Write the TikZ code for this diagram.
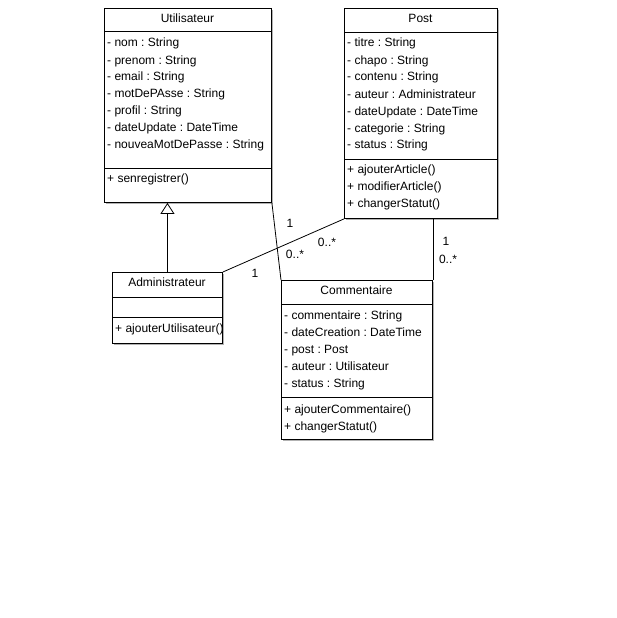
\documentclass[tikz,border=0pt]{standalone}
\usepackage{fontspec}
\setmainfont{Liberation Sans}
\usetikzlibrary{arrows.meta,shadows}
\frenchspacing
\begin{document}
\begin{tikzpicture}[x=1pt,y=-1pt,
  txt/.style={font=\fontsize{12}{14}\selectfont, inner sep=0pt},
  classbox/.style={draw=black, line width=0.9pt, fill=white, inner sep=0pt, anchor=north west,
    drop shadow={shadow xshift=1.6pt, shadow yshift=-1.6pt, fill=black!30, opacity=1}},
  sep/.style={draw=black, line width=0.9pt},
  title/.style={txt, anchor=center},
  member/.style={txt, anchor=base west},
  multiplicity/.style={txt, anchor=center},
  link/.style={draw=black, line width=0.8pt},
  inherit/.style={link, -{Triangle[open, length=11pt, width=14pt]}}
]
\useasboundingbox (0,0) rectangle (616,618);

% ---- Utilisateur ----
\node[classbox, minimum width=167pt, minimum height=194pt] (util) at (104,8) {};
\node[title] (utilT) at (187.5,18) {Utilisateur};
\draw[sep] (104,31) -- (271,31);
\node[member] (u1) at (107,47) {- nom : String};
\node[member] (u2) at (107,64) {- prenom : String};
\node[member] (u3) at (107,80.5) {- email : String};
\node[member] (u4) at (107,97.5) {- motDePAsse : String};
\node[member] (u5) at (107,114.5) {- profil : String};
\node[member] (u6) at (107,131.5) {- dateUpdate : DateTime};
\node[member] (u7) at (107,148.5) {- nouveaMotDePasse : String};
\draw[sep] (104,168) -- (271,168);
\node[member] (u8) at (107,182.5) {+ senregistrer()};

% ---- Post ----
\node[classbox, minimum width=153pt, minimum height=210pt] (post) at (344,8) {};
\node[title] (postT) at (420.5,18) {Post};
\draw[sep] (344,32) -- (497,32);
\node[member] (p1) at (347,47) {- titre : String};
\node[member] (p2) at (347,64) {- chapo : String};
\node[member] (p3) at (347,81) {- contenu : String};
\node[member] (p4) at (347,98) {- auteur : Administrateur};
\node[member] (p5) at (347,115) {- dateUpdate : DateTime};
\node[member] (p6) at (347,132) {- categorie : String};
\node[member] (p7) at (347,148.5) {- status : String};
\draw[sep] (344,159) -- (497,159);
\node[member] (p8) at (347,173.5) {+ ajouterArticle()};
\node[member] (p9) at (347,190.5) {+ modifierArticle()};
\node[member] (p10) at (347,207.5) {+ changerStatut()};

% ---- Administrateur ----
\node[classbox, minimum width=110pt, minimum height=71pt] (admin) at (112,272) {};
\node[title] (adminT) at (167,282) {Administrateur};
\draw[sep] (112,297) -- (222,297);
\draw[sep] (112,317) -- (222,317);
\node[member] (a1) at (115,332) {+ ajouterUtilisateur()};

% ---- Commentaire ----
\node[classbox, minimum width=151pt, minimum height=159pt] (comm) at (281,280) {};
\node[title] (commT) at (356.5,290) {Commentaire};
\draw[sep] (281,304) -- (432,304);
\node[member] (c1) at (284,319) {- commentaire : String};
\node[member] (c2) at (284,336) {- dateCreation : DateTime};
\node[member] (c3) at (284,353) {- post : Post};
\node[member] (c4) at (284,370) {- auteur : Utilisateur};
\node[member] (c5) at (284,387) {- status : String};
\draw[sep] (281,397) -- (432,397);
\node[member] (c6) at (284,413) {+ ajouterCommentaire()};
\node[member] (c7) at (284,430) {+ changerStatut()};

% ---- Relations ----
\draw[inherit] (admin.north) -- (admin.north |- util.south);
\draw[link] (util.south east) -- (comm.north west);
\draw[link] (admin.north east) -- (post.south west);
\draw[link] (comm.north east) -- (comm.north east |- post.south);

% ---- Multiplicities ----
\node[multiplicity] (m1) at (290,223) {1};
\node[multiplicity] (m2) at (295,254) {0..*};
\node[multiplicity] (m3) at (327,242) {0..*};
\node[multiplicity] (m4) at (255,273) {1};
\node[multiplicity] (m5) at (446,241) {1};
\node[multiplicity] (m6) at (448,259) {0..*};
\end{tikzpicture}
\end{document}
